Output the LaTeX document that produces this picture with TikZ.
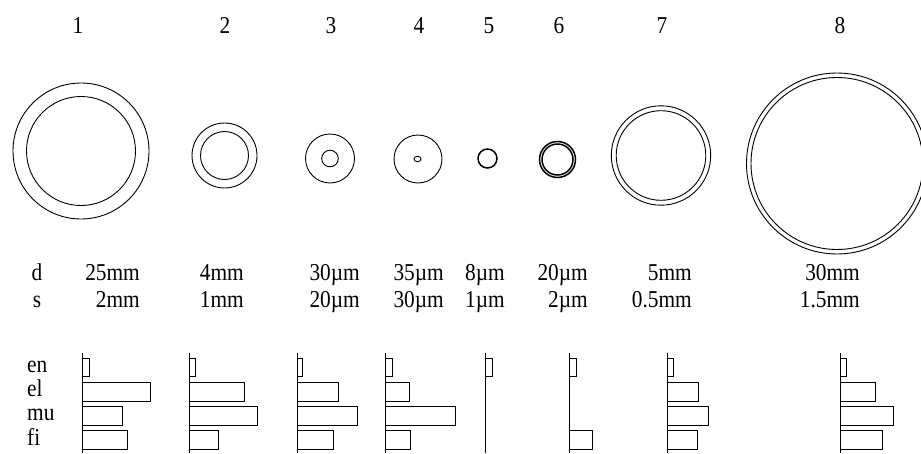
\documentclass[tikz,border=0pt]{standalone}
\usepackage{fontspec}
\usepackage{graphicx}
\setmainfont{Liberation Serif}
\newcommand\talltext[1]{\scalebox{0.97}[1.1]{#1}}
\begin{document}
\begin{tikzpicture}[x=1pt,y=-1pt,
  lbl/.style={font=\fontsize{22}{26}\selectfont, inner sep=0pt},
  ring/.style={line width=0.9pt},
  thickring/.style={line width=1.5pt},
  barbox/.style={line width=0.8pt},
  axisline/.style={line width=0.8pt}]
\useasboundingbox (0,0) rectangle (921,453);
\clip (0,0) rectangle (921,453);

% column numbers
\node[lbl, anchor=base] (n1) at (78,33) {\talltext{1}};
\node[lbl, anchor=base] (n2) at (225,33) {\talltext{2}};
\node[lbl, anchor=base] (n3) at (331,33) {\talltext{3}};
\node[lbl, anchor=base] (n4) at (419,33) {\talltext{4}};
\node[lbl, anchor=base] (n5) at (489,33) {\talltext{5}};
\node[lbl, anchor=base] (n6) at (559,33) {\talltext{6}};
\node[lbl, anchor=base] (n7) at (662,33) {\talltext{7}};
\node[lbl, anchor=base] (n8) at (840,33) {\talltext{8}};

% cross sections
\draw[ring] (81,151) circle (68) (81,151) circle (54.5);
\draw[ring] (224.5,155.5) circle (32.5) (224.5,155.5) circle (24);
\draw[ring] (330,158.5) circle (24.5) (330,158.5) circle (8.3);
\draw[ring] (418,159) circle (24) (417.5,159) ellipse (3.5 and 2.7);
\draw[thickring] (487.5,158.5) circle (9.5);
\draw[thickring] (557.5,159.5) circle (18) (557.5,159.5) circle (15.5);
\draw[ring] (661,155.5) circle (49.7) (661,155.5) circle (44.8);
\draw[ring] (837,163.5) circle (90.5) (837,163.5) circle (86);

% d / s rows
\node[lbl, anchor=base] (dl) at (37,280) {\talltext{d}};
\node[lbl, anchor=base] (sl) at (37,307) {\talltext{s}};
\foreach \x/\d/\s [count=\i] in {140/25mm/2mm, 244/4mm/1mm, 360/30µm/20µm, 444/35µm/30µm,
    505/8µm/1µm, 588/20µm/2µm, 692/5mm/0.5mm, 860/30mm/1.5mm}{
  \node[lbl, anchor=base east] (d\i) at (\x,280) {\talltext{\d}};
  \node[lbl, anchor=base east] (s\i) at (\x,307) {\talltext{\s}};
}

% bar labels
\node[lbl, anchor=base west] (en) at (27,372) {\talltext{en}};
\node[lbl, anchor=base west] (el) at (27,396) {\talltext{el}};
\node[lbl, anchor=base west] (mu) at (27,420) {\talltext{mu}};
\node[lbl, anchor=base west] (fi) at (27,445) {\talltext{fi}};

% bar charts
\foreach \x/\a/\b/\c/\e in {82/7/68/40/45, 189.5/6/55/68/29, 297.5/5/41/60/36, 385/7/24/70/25,
    485.5/7/0/0/0, 569/7/0/0/23, 667.5/6/31/41/30, 840/6/35/53/42}{
  \draw[axisline] (\x,352.5) -- (\x,453);
  \draw[barbox] (\x,358) rectangle ++(\a,18);
  \ifdim\b pt>0pt \draw[barbox] (\x,382) rectangle ++(\b,19); \fi
  \ifdim\c pt>0pt \draw[barbox] (\x,406) rectangle ++(\c,19); \fi
  \ifdim\e pt>0pt \draw[barbox] (\x,430) rectangle ++(\e,19); \fi
}
\end{tikzpicture}
\end{document}
